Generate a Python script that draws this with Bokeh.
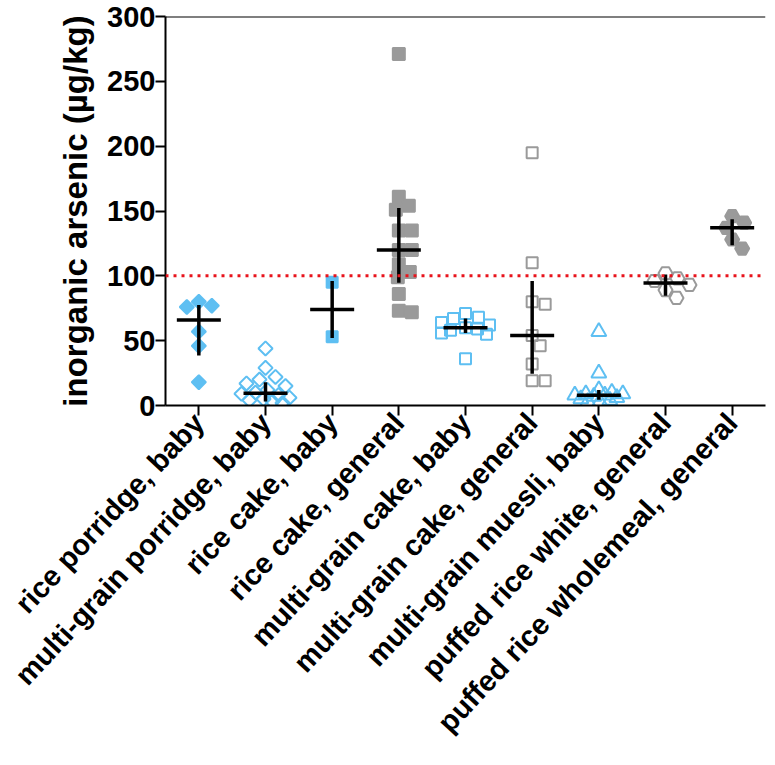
import numpy as np
from math import pi
from bokeh.plotting import figure
from bokeh.models import FixedTicker, Span, ColumnDataSource
from bokeh.embed import file_html
from bokeh.resources import INLINE

categories = ["rice porridge, baby", "multi-grain porridge, baby", "rice cake, baby",
              "rice cake, general", "multi-grain cake, baby", "multi-grain cake, general",
              "multi-grain muesli, baby", "puffed rice white, general",
              "puffed rice wholemeal, general"]

# individual samples (µg/kg)
rice_porridge_baby = [80, 77, 76, 57, 46, 18]
multigrain_porridge_baby = [44, 29, 22, 20, 17, 15, 12, 10, 9, 8, 6, 5, 4, 3, 2]
rice_cake_baby = [95, 53]
rice_cake_general = [271, 161, 154, 151, 135, 135, 120, 120, 109, 103, 99, 86, 73, 72]
multigrain_cake_baby = [71, 68, 67, 64, 62, 60, 59, 58, 56, 55, 36]
multigrain_cake_general = [195, 110, 80, 78, 54, 46, 32, 19, 19]
multigrain_muesli_baby = [57, 25, 12, 10, 9, 9, 8, 8, 7, 6, 5, 4, 3, 3]
puffed_rice_white_general = [102, 98, 96, 93, 89, 83]
puffed_rice_wholemeal_general = [146, 141, 137, 128, 121]

# median with interquartile range
medians = [66, 9.5, 74, 120, 60, 54, 8, 94.5, 137]
q1 = [38.5, 3, 52, 94.7, 56, 24.5, 4.5, 84.7, 123.5]
q3 = [77.5, 18, 96, 152.4, 67, 96, 12, 101, 143.6]

limit_value = 100

series = [rice_porridge_baby, multigrain_porridge_baby, rice_cake_baby, rice_cake_general,
          multigrain_cake_baby, multigrain_cake_general, multigrain_muesli_baby,
          puffed_rice_white_general, puffed_rice_wholemeal_general]

BLUE = "#5EBFF2"
GREY = "#9A9A9A"
styles = [
    dict(marker="square", angle=pi / 4, size=10, fill=True, color=BLUE),
    dict(marker="square", angle=pi / 4, size=10, fill=False, color=BLUE),
    dict(marker="square", angle=0, size=11, fill=True, color=BLUE),
    dict(marker="square", angle=0, size=12, fill=True, color=GREY),
    dict(marker="square", angle=0, size=11, fill=False, color=BLUE),
    dict(marker="square", angle=0, size=11, fill=False, color=GREY),
    dict(marker="triangle", angle=0, size=15, fill=False, color=BLUE),
    dict(marker="hex", angle=0, size=14, fill=False, color=GREY),
    dict(marker="hex", angle=0, size=14, fill=True, color=GREY),
]

# layout
TOP, FRAME_W, FRAME_H, BOTTOM = 16, 600, 389, 352
px_per_x = FRAME_W / 9.0
px_per_y = FRAME_H / 300.0


def swarm(values, dc=13.0, maxoff=24):
    """deterministic beeswarm: offsets in pixels"""
    placed = []
    offs = []
    cands = np.arange(-maxoff, maxoff + 1, 1.0)
    for v in values:
        yp = v * px_per_y
        best, best_score = 0.0, -1.0
        for c in sorted(cands, key=lambda t: (abs(t), -t)):
            if placed:
                d = min(np.hypot(c - px, yp - py) for px, py in placed)
            else:
                d = dc
            score = min(d, dc)
            if score > best_score + 1e-9:
                best, best_score = c, score
        placed.append((best, yp))
        offs.append(best)
    return offs


p = figure(width=767, height=TOP + FRAME_H + BOTTOM, x_range=(0.5, 9.5), y_range=(0, 300),
           output_backend="svg", toolbar_location=None,
           min_border_left=165, min_border_right=2, min_border_top=TOP,
           min_border_bottom=BOTTOM)
p.outline_line_color = None
p.xgrid.visible = False
p.ygrid.visible = False

# reference limit line
p.add_layout(Span(location=limit_value, dimension="width", line_color="#E8141C",
                  line_width=3, line_dash="3 5"))
# top frame line
p.add_layout(Span(location=300, dimension="width", line_color="black", line_width=2))

for i, (vals, st) in enumerate(zip(series, styles)):
    offs = swarm(vals)
    xs = [i + 1 + o / px_per_x for o in offs]
    src = ColumnDataSource(dict(x=xs, y=vals))
    p.scatter("x", "y", source=src, marker=st["marker"], size=st["size"], angle=st["angle"],
              line_color=st["color"], line_width=2,
              fill_color=st["color"] if st["fill"] else None)

xc = list(range(1, 10))
half = 0.33
p.segment(x0=[x - half for x in xc], y0=medians, x1=[x + half for x in xc], y1=medians,
          line_color="black", line_width=3.5)
p.segment(x0=xc, y0=q1, x1=xc, y1=q3, line_color="black", line_width=3.5)

FONT = "Liberation Sans"
p.yaxis.ticker = FixedTicker(ticks=[0, 50, 100, 150, 200, 250, 300])
p.yaxis.axis_label = "inorganic arsenic (µg/kg)"
p.yaxis.axis_label_text_font = FONT
p.yaxis.axis_label_text_font_style = "bold"
p.yaxis.axis_label_text_font_size = "33px"
p.yaxis.axis_label_text_color = "black"
p.yaxis.axis_label_standoff = 10

p.xaxis.ticker = FixedTicker(ticks=xc)
p.xaxis.major_label_overrides = {i + 1: c for i, c in enumerate(categories)}
p.xaxis.major_label_orientation = 0.82

for ax in (p.xaxis, p.yaxis):
    ax.axis_line_width = 2
    ax.axis_line_color = "black"
    ax.major_tick_line_width = 2
    ax.major_tick_line_color = "black"
    ax.major_tick_in = 0
    ax.major_tick_out = 10
    ax.minor_tick_line_color = None
    ax.major_label_text_font = FONT
    ax.major_label_text_font_style = "bold"
    ax.major_label_text_color = "black"
    ax.major_label_standoff = 2

p.yaxis.major_label_standoff = 0
p.xaxis.major_label_text_font_size = "29px"
p.yaxis.major_label_text_font_size = "29px"

open("out.html", "w").write(file_html(p, INLINE))
